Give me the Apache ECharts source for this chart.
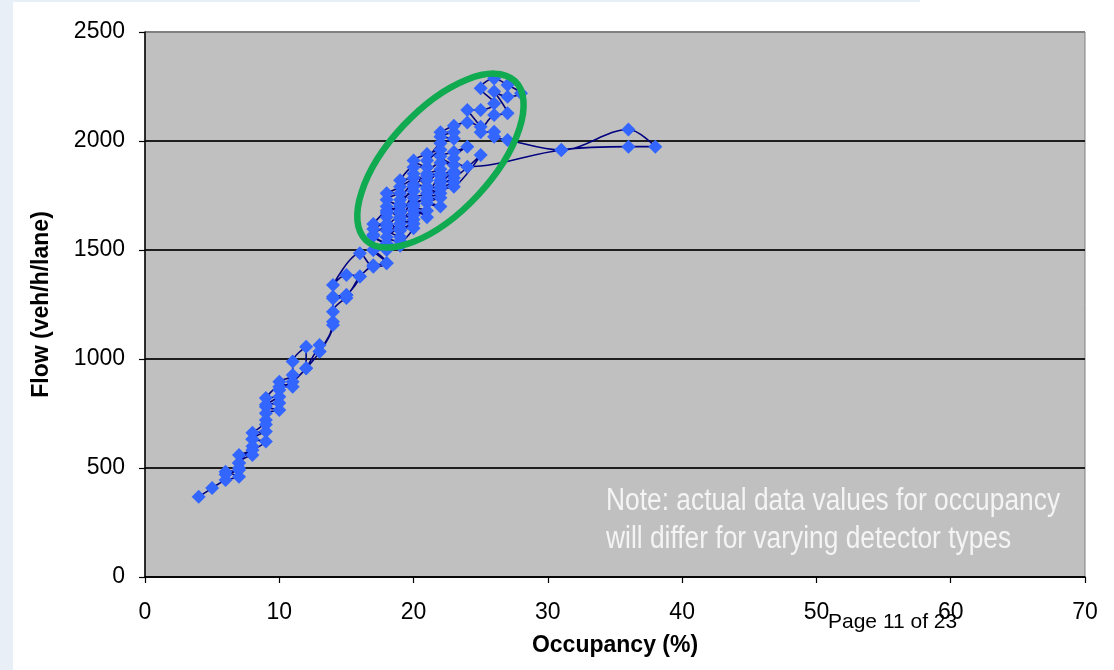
<!DOCTYPE html>
<html>
<head>
<meta charset="utf-8">
<script src="https://cdn.jsdelivr.net/npm/echarts@6/dist/echarts.min.js"></script>
<style>
  html, body { margin: 0; padding: 0; background: #ffffff; }
  #chart { width: 1114px; height: 670px; }
</style>
</head>
<body>
<div id="chart"></div>
<script>
// Detector readings in time order: occupancy (%) and flow (veh/h/lane)
const occupancy = [
  4, 5, 6, 7, 6, 7, 7, 8, 7, 8, 9, 8, 9, 8, 9, 9, 10, 9, 10, 9, 10, 11, 10, 11, 11,
  12, 12, 13, 13, 14, 14, 15, 14, 15, 16, 15, 14, 16, 17, 18, 17, 18, 17,
  17, 18, 17, 18, 19, 18, 19, 18, 19, 20, 19, 20, 21, 20, 21, 22, 21, 22, 23, 22,
  23, 22, 23, 24, 25, 24, 25, 26, 25, 26, 27, 28, 27, 26, 27, 26, 25, 26, 26, 27,
  31, 36, 38, 36, 31, 24,
  23, 24, 23, 22, 23, 22, 21, 22, 21, 20, 21, 20, 19, 20, 19, 18, 19, 20, 21, 22,
  23, 22, 23, 25, 23, 22, 21, 22, 21, 22, 20, 21, 20, 19, 20, 19, 18, 19, 18, 20,
  19, 18,
  19, 20, 19, 20, 21, 20, 21, 22, 21, 22, 23, 22, 23, 22, 21, 20, 19, 18, 19, 18,
  17, 18, 19, 18, 17, 18, 17,
  16, 15, 14, 14, 13, 12, 11, 10, 10, 9, 9, 8, 8, 7, 7, 6
];
const flow = [
  368, 408, 445, 460, 483, 491, 523, 560, 560, 583, 621, 632, 667, 662, 720, 751, 766, 781, 827, 821, 873, 873, 896, 927, 988,
  1056, 957, 1064, 1034, 1156, 1217, 1280, 1278, 1294, 1378, 1385, 1339, 1485, 1423, 1439, 1500, 1523, 1564,
  1596, 1620, 1619, 1680, 1700, 1730, 1760, 1760, 1790, 1830, 1820, 1880, 1880, 1910, 1940, 1960, 1910, 1990, 2010, 2020,
  2040, 2040, 2070, 2085, 2065, 2142, 2142, 2172, 2242, 2287, 2257, 2219, 2203, 2227, 2127, 2119, 2040, 2043, 2020, 2005,
  1959, 2053, 1974, 1974, 1959, 1882,
  1920, 1974, 1950, 1930, 1890, 1900, 1850, 1870, 1820, 1850, 1790, 1800, 1730, 1770, 1680, 1700, 1650, 1740, 1760, 1840,
  1860, 1810, 1830, 1936, 1790, 1780, 1730, 1700, 1714, 1740, 1710, 1650, 1680, 1620, 1640, 1590, 1650, 1560, 1590, 1600,
  1540, 1560,
  1600, 1620, 1640, 1660, 1680, 1700, 1740, 1760, 1780, 1790, 1810, 1820, 1850, 1850, 1840, 1790, 1710, 1670, 1670, 1610,
  1570, 1530, 1520, 1500, 1500, 1440, 1430,
  1378, 1294, 1286, 1171, 1034, 957, 896, 858, 798, 790, 700, 632, 600, 523, 500, 470
];

// Axis tick labels
const xTicks = [0, 10, 20, 30, 40, 50, 60, 70];
const yTicks = [0, 500, 1000, 1500, 2000, 2500];

// Centre of the highlighted high-flow cluster (data units)
const clusterCentre = [22, 1910];

const points = occupancy.map((o, i) => [o, flow[i]]);

const chart = echarts.init(document.getElementById('chart'), null, { renderer: 'canvas' });

const labelFont = { fontFamily: '"Liberation Sans", Arial, sans-serif', fontSize: 23, color: '#000' };
const nameFont = { fontFamily: '"Liberation Sans", Arial, sans-serif', fontSize: 23, fontWeight: 'bold', color: '#000' };
const noteFont = '31px "Liberation Sans", Arial, sans-serif';

chart.setOption({
  animation: false,
  backgroundColor: '#ffffff',
  grid: {
    left: 145, right: 29, top: 32, bottom: 93,
    show: true, backgroundColor: '#c0c0c0', borderColor: '#808080', borderWidth: 1
  },
  xAxis: {
    type: 'value',
    min: xTicks[0], max: xTicks[xTicks.length - 1], interval: xTicks[1] - xTicks[0],
    name: 'Occupancy (%)', nameLocation: 'middle', nameGap: 57, nameTextStyle: nameFont,
    axisLine: { show: true, onZero: false, lineStyle: { color: '#000', width: 1.5 } },
    axisTick: { show: true, inside: false, length: 6, lineStyle: { color: '#000', width: 1.2 } },
    axisLabel: Object.assign({ margin: 24, formatter: v => String(v) }, labelFont),
    splitLine: { show: false }
  },
  yAxis: {
    type: 'value',
    min: yTicks[0], max: yTicks[yTicks.length - 1], interval: yTicks[1] - yTicks[0],
    name: 'Flow (veh/h/lane)', nameLocation: 'middle', nameGap: 92, nameRotate: 90, nameTextStyle: nameFont,
    axisLine: { show: true, lineStyle: { color: '#000', width: 1.5 } },
    axisTick: { show: true, inside: false, length: 6, lineStyle: { color: '#000', width: 1.2 } },
    axisLabel: Object.assign({ margin: 20, formatter: v => String(v) }, labelFont),
    splitLine: {
      show: true,
      lineStyle: { color: ['#1e1e1e', '#1e1e1e', '#1e1e1e', '#1e1e1e', '#1e1e1e', '#808080'], width: 1.8 }
    }
  },
  series: [{
    type: 'line',
    data: points,
    smooth: 0.35,
    showAllSymbol: true,
    symbol: 'diamond',
    symbolSize: 14,
    itemStyle: { color: '#3366ff', borderWidth: 0 },
    lineStyle: { color: '#000080', width: 1.6 },
    z: 3
  }],
  graphic: [
    // page frame tint on the left and top edges
    { type: 'rect', left: 0, top: 0, shape: { width: 13, height: 670 }, style: { fill: '#e9eff6' }, silent: true, z: -1 },
    { type: 'rect', left: 0, top: 0, shape: { width: 920, height: 2 }, style: { fill: '#e9eff6' }, silent: true, z: -1 },
    {
      type: 'text', x: 606, y: 486, scaleX: 0.85, z: 10,
      style: { text: 'Note: actual data values for occupancy', fill: '#f4f4f4', font: noteFont }
    },
    {
      type: 'text', x: 606, y: 524, scaleX: 0.85, z: 10,
      style: { text: 'will differ for varying detector types', fill: '#f4f4f4', font: noteFont }
    },
    {
      type: 'text', x: 828, y: 612, z: 10,
      style: { text: 'Page 11 of 23', fill: '#000', font: '21px "Liberation Sans", Arial, sans-serif' }
    }
  ]
});

// Green ring around the high-flow cluster
const c = chart.convertToPixel({ gridIndex: 0 }, clusterCentre);
chart.setOption({
  graphic: [{
    id: 'cluster-ring', type: 'ellipse', x: c[0], y: c[1],
    rotation: 47 * Math.PI / 180,
    shape: { cx: 0, cy: 0, rx: 109, ry: 51 },
    style: { fill: 'none', stroke: '#10aa50', lineWidth: 6.5 },
    z: 20, silent: true
  }]
});
</script>
</body>
</html>
